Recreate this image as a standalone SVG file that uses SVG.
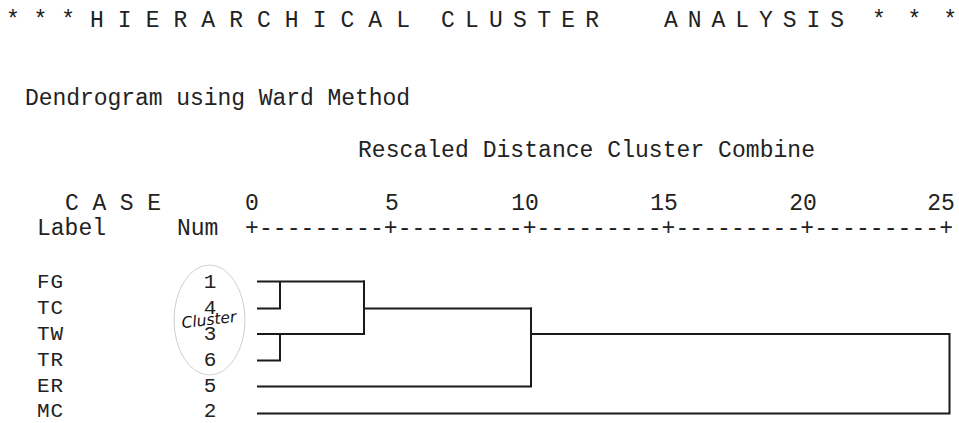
<svg xmlns="http://www.w3.org/2000/svg" width="959" height="423" viewBox="0 0 959 423">
<style>
  .t { font-family: "Liberation Mono", "Courier New", monospace; font-size: 23px; fill: #222; }
  .r { font-family: "Liberation Mono", "Courier New", monospace; font-size: 21px; fill: #222; }
  .num { text-anchor: middle; }
  .ln { stroke: #1a1a1a; stroke-width: 2; fill: none; stroke-linecap: square; }
  .hand { font-family: "DejaVu Sans", "Liberation Sans", sans-serif; font-style: italic; font-size: 15.5px; fill: #111; }
</style>
<rect width="959" height="423" fill="#ffffff"/>
<g id="title">
  <text class="t" x="6" y="27" textLength="69" lengthAdjust="spacing">* * *</text>
  <text class="t" x="90" y="27" textLength="320" lengthAdjust="spacing">H I E R A R C H I C A L</text>
  <text class="t" x="441" y="27" textLength="158" lengthAdjust="spacing">C L U S T E R</text>
  <text class="t" x="664" y="27" textLength="180" lengthAdjust="spacing">A N A L Y S I S</text>
  <text class="t" x="872" y="27" textLength="85" lengthAdjust="spacing">* * *</text>
</g>
<g id="subtitle">
  <text class="t" x="25" y="105" textLength="385" lengthAdjust="spacing">Dendrogram using Ward Method</text>
  <text class="t" x="358" y="157" textLength="457" lengthAdjust="spacing">Rescaled Distance Cluster Combine</text>
</g>
<g id="header">
  <text class="t" x="65" y="210" textLength="96" lengthAdjust="spacing">C A S E</text>
  <text class="t" x="37" y="235">Label</text>
  <text class="t" x="177" y="235">Num</text>
</g>
<g id="axis">
  <text class="t num" x="252" y="210">0</text>
  <text class="t num" x="392" y="210">5</text>
  <text class="t num" x="525" y="210">10</text>
  <text class="t num" x="664" y="210">15</text>
  <text class="t num" x="803" y="210">20</text>
  <text class="t num" x="941" y="210">25</text>
  <text class="t" x="245" y="235" textLength="708" lengthAdjust="spacing">+---------+---------+---------+---------+---------+</text>
</g>
<g id="cluster-mark">
  <ellipse cx="209.5" cy="320" rx="35.5" ry="55" fill="none" stroke="#cfcfcf" stroke-width="1"/>
</g>
<g id="case-FG"><text class="r" x="37" y="287.5" textLength="26">FG</text><text class="r num" x="210" y="287.5">1</text></g>
<g id="case-TC"><text class="r" x="37" y="313.5" textLength="26">TC</text><text class="r num" x="210" y="313.5">4</text></g>
<g id="case-TW"><text class="r" x="37" y="339.5" textLength="26">TW</text><text class="r num" x="210" y="339.5">3</text></g>
<g id="case-TR"><text class="r" x="37" y="365.5" textLength="26">TR</text><text class="r num" x="210" y="365.5">6</text></g>
<g id="case-ER"><text class="r" x="37" y="391.5" textLength="26">ER</text><text class="r num" x="210" y="391.5">5</text></g>
<g id="case-MC"><text class="r" x="37" y="416.5" textLength="26">MC</text><text class="r num" x="210" y="416.5">2</text></g>
<g id="cluster-label">
  <text class="hand" x="209" y="325" text-anchor="middle" transform="rotate(-7 209 321)">Cluster</text>
</g>
<g id="connectors">
  <path class="ln" d="M258 281.5 H364 M258 308.5 H280 M280 281.5 V308.5"/>
  <path class="ln" d="M258 334 H364 M258 360.5 H280 M280 334 V360.5"/>
  <path class="ln" d="M364 281.5 V334 M364 308.5 H531"/>
  <path class="ln" d="M258 386.5 H531 M531 308.5 V386.5"/>
  <path class="ln" d="M531 334 H949.5 M258 413.5 H949.5 M949.5 334 V413.5"/>
</g>
</svg>
